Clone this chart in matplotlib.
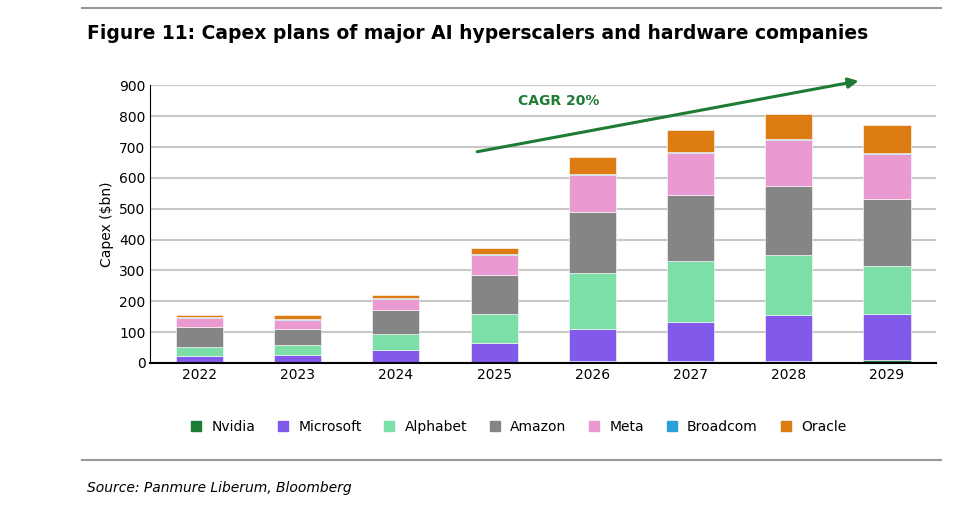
import numpy as np
import matplotlib.pyplot as plt
from matplotlib.lines import Line2D

years = ["2022", "2023", "2024", "2025", "2026", "2027", "2028", "2029"]
nvidia = [3, 3, 3, 4, 5, 5, 6, 10]
microsoft = [18, 24, 38, 61, 106, 128, 148, 147]
alphabet = [31, 30, 54, 92, 182, 197, 197, 157]
amazon = [65, 54, 76, 127, 195, 213, 222, 218]
meta = [29, 29, 36, 66, 122, 137, 149, 146]
broadcom = [2, 2, 2, 3, 3, 3, 3, 3]
oracle = [7, 13, 10, 20, 55, 73, 81, 89]

series = [("Nvidia", nvidia, "#1e7b34"), ("Microsoft", microsoft, "#8159eb"),
          ("Alphabet", alphabet, "#7ddfa8"), ("Amazon", amazon, "#858585"),
          ("Meta", meta, "#ea9ad0"), ("Broadcom", broadcom, "#2c9fd8"),
          ("Oracle", oracle, "#de7c14")]

fig = plt.figure(figsize=(9.7, 5.14), dpi=100)
ax = fig.add_axes([0.155, 0.294, 0.81, 0.54])
x = np.arange(len(years))
bottom = np.zeros(len(years))
for name, vals, col in series:
    ax.bar(x, vals, 0.48, bottom=bottom, color=col, label=name,
           edgecolor="white", linewidth=0.4)
    bottom += np.array(vals)

ax.set_ylim(0, 900)
ax.set_yticks(range(0, 901, 100))
ax.set_xlim(-0.5, len(years) - 0.5)
ax.set_xticks(x)
ax.set_xticklabels(years)
ax.yaxis.grid(True, color="#c8c8c8", linewidth=1.5)
ax.set_axisbelow(True)
for s in ["top", "right"]:
    ax.spines[s].set_visible(False)
ax.spines["bottom"].set_linewidth(1.5)
ax.tick_params(axis="both", labelsize=10, length=0)
ax.set_ylabel("Capex ($bn)", fontsize=10)

ax.annotate("", xy=(6.74, 916), xytext=(2.8, 683),
            arrowprops=dict(arrowstyle="-|>", color="#1e7b34", lw=2.2,
                            mutation_scale=15), annotation_clip=False)
ax.text(3.66, 848, "CAGR 20%", color="#1e7b34", fontsize=10,
        fontweight="bold", ha="center", va="center")

handles = [Line2D([], [], marker="s", linestyle="", color=c, markersize=7)
           for _, _, c in series]
fig.legend(handles, [n for n, _, _ in series], loc="center",
           bbox_to_anchor=(0.53, 0.17), ncol=7, frameon=False,
           fontsize=10, handletextpad=0.1, columnspacing=1.0)

fig.text(0.09, 0.935, "Figure 11: Capex plans of major AI hyperscalers and hardware companies",
         fontsize=13.5, fontweight="bold", va="center")
fig.add_artist(Line2D([0.085, 0.97], [0.985, 0.985], color="#999999", lw=1.5))
fig.add_artist(Line2D([0.085, 0.97], [0.105, 0.105], color="#999999", lw=1.5))
fig.text(0.09, 0.05, "Source: Panmure Liberum, Bloomberg", fontsize=10,
         style="italic", va="center")

fig.savefig("out.png", dpi=100)
